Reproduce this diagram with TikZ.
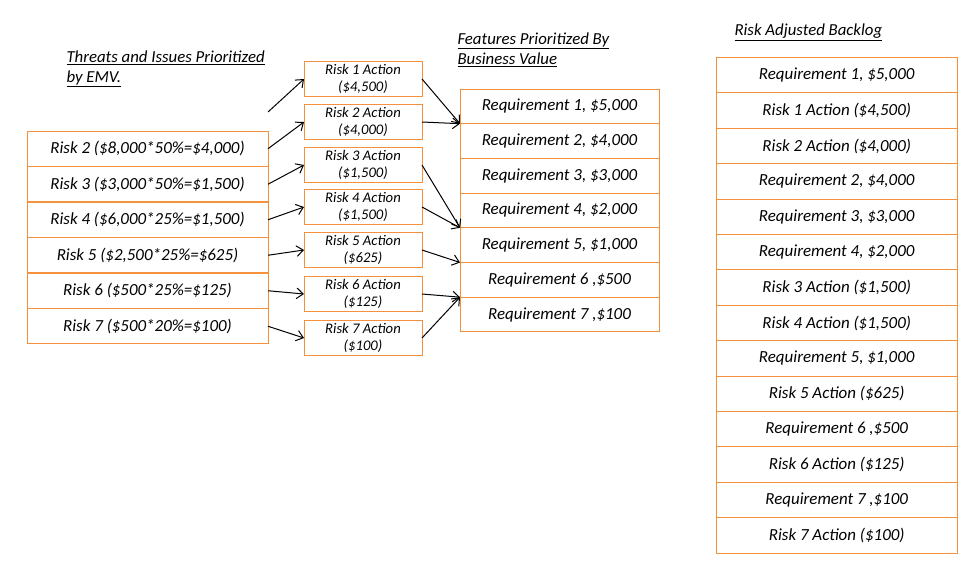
\documentclass[tikz,border=0pt]{standalone}
\usepackage{fontspec}
\setmainfont{Carlito}
\usetikzlibrary{arrows.meta}
\definecolor{myOrange}{RGB}{245, 145, 60}

\tikzset{
	riskbox/.style={draw=myOrange, line width=0.75pt, inner sep=0pt, outer sep=0pt,
		minimum width=180.75pt, minimum height=26.6pt, font=\fontsize{12.7}{15}\selectfont\itshape},
	actbox/.style={draw=myOrange, line width=0.75pt, inner sep=0pt, outer sep=0pt, align=center,
		minimum width=88.5pt, minimum height=26.25pt, font=\fontsize{11}{13.1}\selectfont\itshape},
	reqbox/.style={draw=myOrange, line width=0.75pt, inner sep=0pt, outer sep=0pt,
		minimum width=149.25pt, minimum height=26pt, font=\fontsize{12.7}{15}\selectfont\itshape},
	backlogbox/.style={draw=myOrange, line width=0.75pt, inner sep=0pt, outer sep=0pt,
		minimum width=180.75pt, minimum height=26.55pt, font=\fontsize{12.7}{15}\selectfont\itshape},
	heading/.style={anchor=north west, inner sep=0pt, align=left, font=\fontsize{12.6}{15}\selectfont\itshape},
}

\begin{document}
\begin{tikzpicture}[x=0.75pt, y=-0.75pt, >={Straight Barb[length=5pt,width=8pt]}, line width=0.75pt]
	\useasboundingbox (0,0) rectangle (972,567);

	% headings
	\draw (66,50) node[heading] (hl) {\underline{Threats and Issues Prioritized}\\\underline{by EMV.}};
	\draw (457,32) node[heading] (hm) {\underline{Features Prioritized By}\\\underline{Business Value}};
	\draw (734,23.5) node[heading] (hr) {\underline{Risk Adjusted Backlog}};

	% threats and issues
	\coordinate (r1) at (268,112);
	\draw (147.5,148.75) node[riskbox] (r2) {Risk 2 (\$8,000*50\%=\$4,000)};
	\draw (147.5,184.25) node[riskbox] (r3) {Risk 3 (\$3,000*50\%=\$1,500)};
	\draw (147.5,219.75) node[riskbox] (r4) {Risk 4 (\$6,000*25\%=\$1,500)};
	\draw (147.5,255.25) node[riskbox] (r5) {Risk 5 (\$2,500*25\%=\$625)};
	\draw (147.5,290.75) node[riskbox] (r6) {Risk 6 (\$500*25\%=\$125)};
	\draw (147.5,326.25) node[riskbox] (r7) {Risk 7 (\$500*20\%=\$100)};

	% actions
	\draw (363,79) node[actbox] (a1) {Risk 1 Action\\(\$4,500)};
	\draw (363,122) node[actbox] (a2) {Risk 2 Action\\(\$4,000)};
	\draw (363,165) node[actbox] (a3) {Risk 3 Action\\(\$1,500)};
	\draw (363,207) node[actbox] (a4) {Risk 4 Action\\(\$1,500)};
	\draw (363,250) node[actbox] (a5) {Risk 5 Action\\(\$625)};
	\draw (363,294) node[actbox] (a6) {Risk 6 Action\\(\$125)};
	\draw (363,338) node[actbox] (a7) {Risk 7 Action\\(\$100)};

	% features
	\draw (559.5,106.35) node[reqbox] (q1) {Requirement 1, \$5,000};
	\draw (559.5,141.05) node[reqbox] (q2) {Requirement 2, \$4,000};
	\draw (559.5,175.75) node[reqbox] (q3) {Requirement 3, \$3,000};
	\draw (559.5,210.45) node[reqbox] (q4) {Requirement 4, \$2,000};
	\draw (559.5,245.15) node[reqbox] (q5) {Requirement 5, \$1,000};
	\draw (559.5,279.85) node[reqbox] (q6) {Requirement 6 ,\$500};
	\draw (559.5,314.55) node[reqbox] (q7) {Requirement 7 ,\$100};

	% risk adjusted backlog
	\draw (836.7,75.2) node[backlogbox] (b1) {Requirement 1, \$5,000};
	\draw (836.7,110.6) node[backlogbox] (b2) {Risk 1 Action (\$4,500)};
	\draw (836.7,146.0) node[backlogbox] (b3) {Risk 2 Action (\$4,000)};
	\draw (836.7,181.4) node[backlogbox] (b4) {Requirement 2, \$4,000};
	\draw (836.7,216.8) node[backlogbox] (b5) {Requirement 3, \$3,000};
	\draw (836.7,252.2) node[backlogbox] (b6) {Requirement 4, \$2,000};
	\draw (836.7,287.6) node[backlogbox] (b7) {Risk 3 Action (\$1,500)};
	\draw (836.7,323.0) node[backlogbox] (b8) {Risk 4 Action (\$1,500)};
	\draw (836.7,358.4) node[backlogbox] (b9) {Requirement 5, \$1,000};
	\draw (836.7,393.8) node[backlogbox] (b10) {Risk 5 Action (\$625)};
	\draw (836.7,429.2) node[backlogbox] (b11) {Requirement 6 ,\$500};
	\draw (836.7,464.6) node[backlogbox] (b12) {Risk 6 Action (\$125)};
	\draw (836.7,500.0) node[backlogbox] (b13) {Requirement 7 ,\$100};
	\draw (836.7,535.4) node[backlogbox] (b14) {Risk 7 Action (\$100)};

	\path[->]
	(r1) edge (a1.west)
	(r2.east) edge (a2.west)
	(r3.east) edge (a3.west)
	(r4.east) edge (a4.west)
	(r5.east) edge (a5.west)
	(r6.east) edge (a6.west)
	(r7.east) edge (a7.west)
	(a1.east) edge (q1.south west)
	(a2.east) edge (q1.south west)
	(a3.east) edge (q4.south west)
	(a4.east) edge (q4.south west)
	(a5.east) edge (q5.south west)
	(a6.east) edge (q6.south west)
	(a7.east) edge (q6.south west)
	;
\end{tikzpicture}
\end{document}
